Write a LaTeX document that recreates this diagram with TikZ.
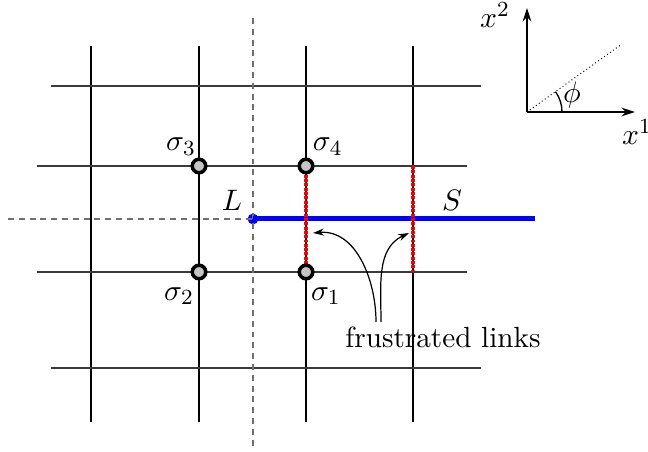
\documentclass[tikz,border=0pt]{standalone}
\usepackage{amsmath}
\usetikzlibrary{arrows.meta}
\definecolor{gridgray}{HTML}{3A3A3A}
\definecolor{cutgray}{HTML}{707070}
\definecolor{sitegray}{HTML}{C4C4C4}
\definecolor{stringblue}{HTML}{0000FF}
\definecolor{linkred}{HTML}{FF0000}
\newcommand{\figuretext}{\fontsize{10.8}{13}\selectfont}

\begin{document}
\begin{tikzpicture}[x=0.37pt,y=-0.37pt,font=\figuretext,
  site/.style={circle,draw=black,fill=sitegray,line width=1.3pt,minimum size=5pt,inner sep=0pt},
  uplabel/.style={inner sep=0.5pt,label distance=-1.5pt,yshift=2.2pt,xshift=0.7pt},
  downlabel/.style={inner sep=0.5pt,label distance=-1.5pt,yshift=-3.8pt},
  cut/.style={cutgray,line width=0.6pt,dash pattern=on 2.2pt off 1.8pt},
  frustrated/.style={linkred,line width=1.5pt,dash pattern=on 1.1pt off 0.5pt},
  pointer/.style={-{Stealth[length=4pt,width=2.6pt]},line width=0.45pt},
  axis/.style={-{Stealth[length=5pt,width=3.2pt]},line width=0.55pt}]
\useasboundingbox (0,0) rectangle (648,452);

% lattice
\foreach \gx in {91,199,306,413}
  \draw[black,line width=0.5pt] (\gx,46) -- (\gx,422);
\foreach \gy in {86,368}
  \draw[gridgray,line width=0.5pt] (51,\gy) -- (481,\gy);
\foreach \gy in {166,272}
  \draw[gridgray,line width=0.5pt] (37,\gy) -- (467,\gy);

% branch cut
\coordinate (ltop) at (253,18);
\coordinate (lbot) at (253,450);
\coordinate (lleft) at (8,219);
\node[circle,fill=stringblue,minimum size=4pt,inner sep=0pt] (lend) at (253,219) {};
\coordinate (send) at (535,219);
\draw[cut] (ltop) -- (lbot);
\draw[cut] (lleft) -- (lend.center);

% string
\draw[stringblue,line width=1.85pt] (lend.center) -- (send);
\node at (232,200) {$L$};
\node at (452,200) {$S$};

% frustrated links
\coordinate (ftop) at (413,166);
\coordinate (fbot) at (413,272);
\draw[frustrated] (306,166) coordinate (s4c) -- (306,272) coordinate (s1c);
\draw[frustrated] (ftop) -- (fbot);

% spins
\node[site,label={[uplabel]above left:$\sigma_3$}] (s3) at (199,166) {};
\node[site,label={[uplabel]above right:$\sigma_4$}] (s4) at (s4c) {};
\node[site,label={[downlabel]below left:$\sigma_2$}] (s2) at (199,272) {};
\node[site,label={[downlabel]below right:$\sigma_1$}] (s1) at (s1c) {};

\node (fl) at (443,337) {frustrated links};
\coordinate (fa) at (376,322);
\coordinate (fb) at (381,322);
\coordinate (ta) at (313,233);
\coordinate (tb) at (409,233);
\draw[pointer] (fa) to[out=90,in=5] (ta);
\draw[pointer] (fb) to[out=90,in=205] (tb);

% axes
\coordinate (o) at (527,112);
\coordinate (e1) at (635,112);
\coordinate (e2) at (527,8);
\coordinate (d) at (622,44);
\draw[axis] (o) -- (e1);
\draw[axis] (o) -- (e2);
\draw[densely dotted,line width=0.35pt] (o) -- (d);
\draw[line width=0.5pt] ([xshift=35*0.37pt]o) arc[start angle=0,end angle=35.6,radius=35*0.37pt];
\node at (572,95) {$\phi$};
\node at (495,15) {$x^2$};
\node at (637,132) {$x^1$};
\end{tikzpicture}
\end{document}
